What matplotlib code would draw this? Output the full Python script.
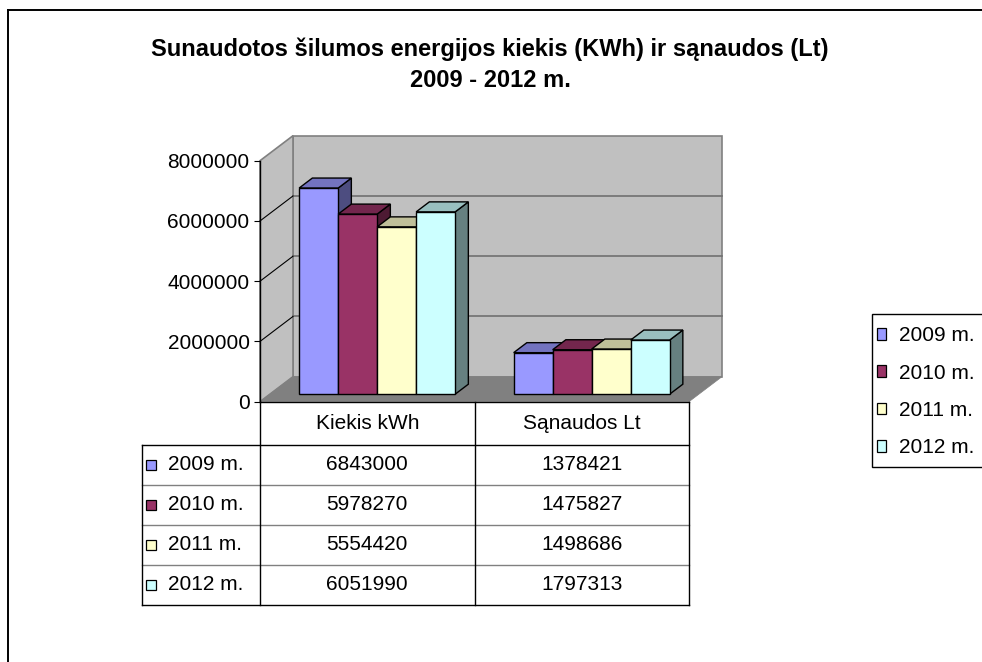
import numpy as np
import matplotlib
matplotlib.use('Agg')
from matplotlib import pyplot as plt
from matplotlib.patches import Polygon, Patch, Rectangle
from matplotlib.lines import Line2D

plt.rcParams['font.family'] = ['Liberation Sans', 'DejaVu Sans']

title = 'Sunaudotos šilumos energijos kiekis (KWh) ir sąnaudos (Lt)\n2009 - 2012 m.'
categories = ['Kiekis kWh', 'Sąnaudos Lt']
series = ['2009 m.', '2010 m.', '2011 m.', '2012 m.']
kiekis = [6843000, 5978270, 5554420, 6051990]
sanaudos = [1378421, 1475827, 1498686, 1797313]
yticks = [0, 2000000, 4000000, 6000000, 8000000]
colors = ['#9999FF', '#993366', '#FFFFCC', '#CCFFFF']

values = np.array([kiekis, sanaudos]).T  # eilutes = serijos
ymax = yticks[-1]
ncat = len(categories)

W, H = 982, 662
fig = plt.figure(figsize=(W / 100, H / 100), dpi=100)

# priekine plokstuma (pikseliais)
left_px, right_px, top_px, bottom_px = 260, 689, 160.7, 401.7
ax = fig.add_axes([left_px / W, 1 - bottom_px / H,
                   (right_px - left_px) / W, (bottom_px - top_px) / H])
ax.set_xlim(0, ncat)
ax.set_ylim(0, ymax)
ax.patch.set_visible(False)

# gylio poslinkis -> duomenu vienetai
dx_px, dy_px = 33, 25
DX = dx_px / (right_px - left_px) * ncat
DY = dy_px / (bottom_px - top_px) * ymax


def proj(x, y, z):
    return (x + z * DX, y + z * DY)


def poly(pts, fc, ec='black', lw=1.0, z=2):
    ax.add_patch(Polygon(pts, closed=True, facecolor=fc, edgecolor=ec, linewidth=lw,
                         clip_on=False, zorder=z, joinstyle='miter'))


def shade(c, f):
    r, g, b = matplotlib.colors.to_rgb(c)
    return (r * f, g * f, b * f)


# sienos ir grindys
poly([proj(0, 0, 1), proj(ncat, 0, 1), proj(ncat, ymax, 1), proj(0, ymax, 1)],
     '#c0c0c0', ec='#808080', lw=1.2, z=1)
poly([proj(0, 0, 0), proj(0, 0, 1), proj(0, ymax, 1), proj(0, ymax, 0)],
     '#c0c0c0', ec='#808080', lw=1.2, z=1)
poly([proj(0, 0, 0), proj(ncat, 0, 0), proj(ncat, 0, 1), proj(0, 0, 1)],
     '#808080', ec='#808080', lw=0.5, z=1)

for v in yticks[1:-1]:
    xs, ys = zip(proj(0, v, 1), proj(ncat, v, 1))
    ax.plot(xs, ys, color='#707070', lw=1.2, zorder=1.5, clip_on=False)
    xs, ys = zip(proj(0, v, 0), proj(0, v, 1))
    ax.plot(xs, ys, color='black', lw=0.8, zorder=1.5, clip_on=False)

# stulpeliai
nser = len(series)
w = 1 / (nser + 1.5)
z0, z1 = 0.3, 0.7
for c in range(ncat):
    for i in range(nser):
        x0 = c + 0.75 * w + i * w
        v = values[i, c]
        poly([proj(x0 + w, 0, z0), proj(x0 + w, 0, z1), proj(x0 + w, v, z1), proj(x0 + w, v, z0)],
             shade(colors[i], 0.5))
        poly([proj(x0, v, z0), proj(x0 + w, v, z0), proj(x0 + w, v, z1), proj(x0, v, z1)],
             shade(colors[i], 0.75))
        poly([proj(x0, 0, z0), proj(x0 + w, 0, z0), proj(x0 + w, v, z0), proj(x0, v, z0)],
             colors[i])

# asys
for s in ['top', 'right', 'bottom']:
    ax.spines[s].set_visible(False)
ax.spines['left'].set_linewidth(1.0)
ax.set_xticks([])
ax.set_yticks(yticks)
ax.set_yticklabels([str(t) for t in yticks])
ax.tick_params(axis='y', length=4.5, width=0.8, pad=3, labelsize=15, direction='out')

# duomenu lentele
tr = ax.get_xaxis_transform()
px_ax = 1 / (bottom_px - top_px)
px_x = ncat / (right_px - left_px)
head_h = 43.3 * px_ax
row_h = 40 * px_ax
lab_w = (left_px - 141.7) * px_x
y_rows = [-head_h - k * row_h for k in range(nser + 1)]
y_bot = y_rows[-1]


def line(xs, ys, col='black', lw=1.0):
    ax.plot(xs, ys, color=col, lw=lw, transform=tr, clip_on=False, zorder=3)


line([0, ncat], [0, 0])
line([-lab_w, ncat], [y_rows[0], y_rows[0]])
for yr in y_rows[1:-1]:
    line([-lab_w, ncat], [yr, yr], col='#808080')
line([-lab_w, ncat], [y_bot, y_bot])
line([-lab_w, -lab_w], [y_rows[0], y_bot])
for c in range(ncat + 1):
    line([c, c], [0, y_bot])

for c, name in enumerate(categories):
    ax.text(c + 0.5, -head_h / 2, name, transform=tr, ha='center', va='center', fontsize=15)
    for i in range(nser):
        yc = y_rows[i] - row_h / 2
        ax.text(c + 0.5, yc, str(values[i, c]), transform=tr, ha='center', va='center',
                fontsize=15)
for i, name in enumerate(series):
    yc = y_rows[i] - row_h / 2
    ax.plot([-lab_w + 9 * px_x], [yc], marker='s', markersize=6.5, markerfacecolor=colors[i],
            markeredgecolor='black', markeredgewidth=0.9, transform=tr, clip_on=False)
    ax.text(-lab_w + 26.5 * px_x, yc, name, transform=tr, ha='left', va='center', fontsize=15)

# legenda
fig.add_artist(Rectangle((871.7 / W, 1 - 466.7 / H), 0.2, (466.7 - 314.3) / H,
                         transform=fig.transFigure, facecolor='white', edgecolor='black',
                         linewidth=1.0, zorder=4))
handles = [Patch(facecolor=colors[i], edgecolor='black', linewidth=0.9) for i in range(nser)]
leg = fig.legend(handles=handles, labels=series, loc='center left',
                 bbox_to_anchor=(877 / W, 1 - 391.7 / H), fontsize=15, frameon=False,
                 handlelength=0.42, handleheight=0.5, handletextpad=0.64,
                 labelspacing=0.88, borderpad=0, borderaxespad=0)
leg.set_zorder(5)

# pavadinimas
fig.text(490 / W, 1 - 64.5 / H, title, ha='center', va='center', fontsize=17,
         fontweight='bold', linespacing=1.42)

# remelis
fig.add_artist(Line2D([7.5 / W, 1], [1 - 9.5 / H, 1 - 9.5 / H], color='black', lw=1.4))
fig.add_artist(Line2D([7.5 / W, 7.5 / W], [0, 1 - 9.5 / H], color='black', lw=1.4))

fig.savefig('out.png', dpi=100)
